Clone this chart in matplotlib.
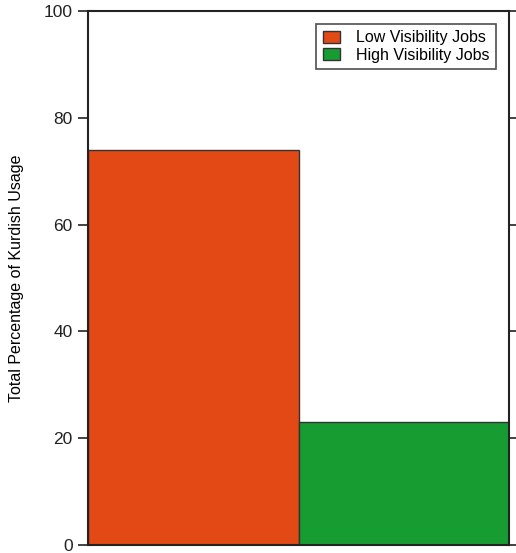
import matplotlib
matplotlib.use("Agg")
import matplotlib.pyplot as plt

plt.rcParams['font.family'] = ['Liberation Sans', 'DejaVu Sans']

categories = ["Low Visibility Jobs", "High Visibility Jobs"]
values = [74, 23]
colors = ["#E34915", "#179C32"]
yticks = [0, 20, 40, 60, 80, 100]

fig = plt.figure(figsize=(5.16, 5.53), dpi=100)
ax = fig.add_axes([88/516, 1 - 545/553, (509 - 88)/516, (545 - 11)/553])

for i, (cat, v, c) in enumerate(zip(categories, values, colors)):
    ax.bar(i, v, width=1.0, align='edge', color=c, edgecolor='#333333',
           linewidth=1.0, label=cat)

ax.set_xlim(0, len(categories))
ax.set_ylim(0, 100)
ax.set_yticks(yticks)
ax.set_xticks([])
ax.tick_params(axis='y', direction='out', length=7, width=1.2, labelsize=12.5,
               right=True, labelright=False, colors='#222222', pad=4)
for s in ax.spines.values():
    s.set_linewidth(1.5)
    s.set_color('#222222')
ax.set_ylabel("Total Percentage of Kurdish Usage", fontsize=11.5, labelpad=14)

leg = ax.legend(loc='upper right', fontsize=11.5, frameon=True, fancybox=False,
                edgecolor='#222222', handlelength=1.1, handleheight=0.8,
                borderaxespad=0.8, labelspacing=0.15, handletextpad=1.0,
                borderpad=0.4)
leg.get_frame().set_linewidth(1.2)

fig.savefig("out.png", dpi=100)
